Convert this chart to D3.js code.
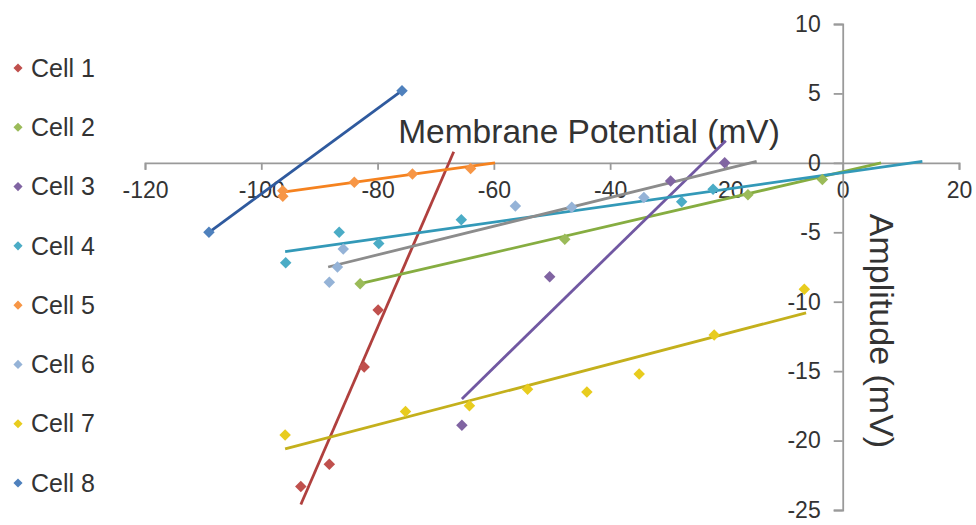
<!DOCTYPE html>
<html>
<head>
<meta charset="utf-8">
<script src="https://cdn.jsdelivr.net/npm/d3@7"></script>
<style>
  body { margin: 0; background: #fff; }
  text { font-family: 'Liberation Sans', Arial, sans-serif; fill: #333; }
</style>
</head>
<body>
<div id="chart"></div>
<script>
// series names shown in the legend
const cellNames = ['Cell 1', 'Cell 2', 'Cell 3', 'Cell 4', 'Cell 5', 'Cell 6', 'Cell 7', 'Cell 8']

// measured points, [membrane potential mV, amplitude mV]
const cell1 = [[-93.2, -23.3], [-88.3, -21.7], [-82.3, -14.7], [-79.9, -10.6]]
const cell2 = [[-83.0, -8.7], [-47.8, -5.5], [-16.3, -2.3], [-3.5, -1.2]]
const cell3 = [[-65.5, -18.9], [-50.4, -8.2], [-29.6, -1.3], [-20.3, 0.0]]
const cell4 = [[-95.8, -7.2], [-86.6, -5.0], [-79.8, -5.8], [-65.6, -4.1], [-27.7, -2.8], [-22.3, -1.9]]
const cell5 = [[-96.3, -2.0], [-96.3, -2.4], [-84.0, -1.4], [-74.0, -0.8], [-64.0, -0.4]]
const cell6 = [[-88.3, -8.6], [-86.9, -7.5], [-85.9, -6.2], [-56.3, -3.1], [-46.6, -3.2], [-34.2, -2.5]]
const cell7 = [[-95.9, -19.6], [-75.2, -17.9], [-64.2, -17.5], [-54.2, -16.3], [-44.0, -16.5], [-35.0, -15.2], [-22.1, -12.4], [-6.6, -9.1]]
const cell8 = [[-109.0, -5.0], [-75.8, 5.2]]

// linear trendlines, [start, end]
const trend1 = [[-93.2, -24.6], [-66.9, 0.8]]
const trend2 = [[-83.0, -8.7], [6.6, 0.0]]
const trend3 = [[-65.5, -17.0], [-20.1, 1.6]]
const trend4 = [[-95.9, -6.4], [13.7, 0.1]]
const trend5 = [[-96.3, -2.1], [-59.8, 0.0]]
const trend6 = [[-88.5, -7.5], [-14.8, 0.1]]
const trend7 = [[-95.9, -20.6], [-6.3, -10.8]]
const trend8 = [[-109.0, -5.0], [-75.8, 5.2]]

// tick labels
const xTicks = [-120, -100, -80, -60, -40, -20, 0, 20]
const yTicks = [-25, -20, -15, -10, -5, 0, 5, 10]

// colours (markers / trendlines)
const markerColors = ['#c0504d', '#9bbb59', '#8064a2', '#4bacc6', '#f79646', '#95b3d7', '#e8cc1e', '#4f81bd']
const lineColors = ['#b0403e', '#86ad41', '#7158a2', '#3399b8', '#f5821f', '#8c8c8c', '#c4b01c', '#2f5a9e']

const seriesPoints = [cell1, cell2, cell3, cell4, cell5, cell6, cell7, cell8]
const seriesTrends = [trend1, trend2, trend3, trend4, trend5, trend6, trend7, trend8]

const W = 976, H = 525
const margin = { top: 24, right: 17, bottom: 15, left: 145 }

const svg = d3.select('#chart').append('svg')
  .attr('width', W)
  .attr('height', H)

const x = d3.scaleLinear().domain([-120, 20]).range([margin.left, W - margin.right])
const y = d3.scaleLinear().domain([-25, 10]).range([H - margin.bottom, margin.top])

const axisGrey = '#9a9a9a'
// plain hyphen minus like the original
const fmt = d => String(d)

// x axis crosses at amplitude 0
const xAxis = svg.append('g')
  .attr('transform', `translate(0,${y(0)})`)
  .call(d3.axisBottom(x).tickValues(xTicks).tickFormat(fmt).tickSize(7).tickPadding(12))
// y axis crosses at potential 0
const yAxis = svg.append('g')
  .attr('transform', `translate(${x(0)},0)`)
  .call(d3.axisLeft(y).tickValues(yTicks).tickFormat(fmt).tickSize(9).tickPadding(13))

;[xAxis, yAxis].forEach(a => {
  a.selectAll('path, line').attr('stroke', axisGrey).attr('stroke-width', 1.8)
  a.selectAll('text')
    .style('font-size', '23px')
    .style('font-family', "'Liberation Sans', Arial, sans-serif")
    .attr('fill', '#333')
})

// axis titles
svg.append('text')
  .attr('x', 589)
  .attr('y', 143)
  .attr('text-anchor', 'middle')
  .style('font-size', '33.5px')
  .text('Membrane Potential (mV)')

svg.append('text')
  .attr('transform', 'translate(870,331) rotate(90)')
  .attr('text-anchor', 'middle')
  .style('font-size', '34px')
  .text('Amplitude (mV)')

// trendlines
const line = d3.line().x(d => x(d[0])).y(d => y(d[1]))
svg.append('g')
  .selectAll('path')
  .data(seriesTrends)
  .join('path')
  .attr('d', line)
  .attr('fill', 'none')
  .attr('stroke', (d, i) => lineColors[i])
  .attr('stroke-width', 2.8)

// diamond markers
const diamond = d3.symbol(d3.symbolSquare, 66)
const markers = svg.append('g')
seriesPoints.forEach((pts, i) => {
  markers.append('g')
    .selectAll('path')
    .data(pts)
    .join('path')
    .attr('d', diamond)
    .attr('transform', d => `translate(${x(d[0])},${y(d[1])}) rotate(45)`)
    .attr('fill', markerColors[i])
})

// legend
const legend = svg.append('g')
const legendY = d3.scalePoint().domain(cellNames).range([68, 483])
cellNames.forEach((name, i) => {
  const row = legend.append('g').attr('transform', `translate(0,${legendY(name)})`)
  row.append('path')
    .attr('d', d3.symbol(d3.symbolSquare, 42))
    .attr('transform', 'translate(18,0) rotate(45)')
    .attr('fill', markerColors[i])
  row.append('text')
    .attr('x', 31)
    .attr('dy', '0.35em')
    .style('font-size', '25px')
    .text(name)
})
</script>
</body>
</html>
